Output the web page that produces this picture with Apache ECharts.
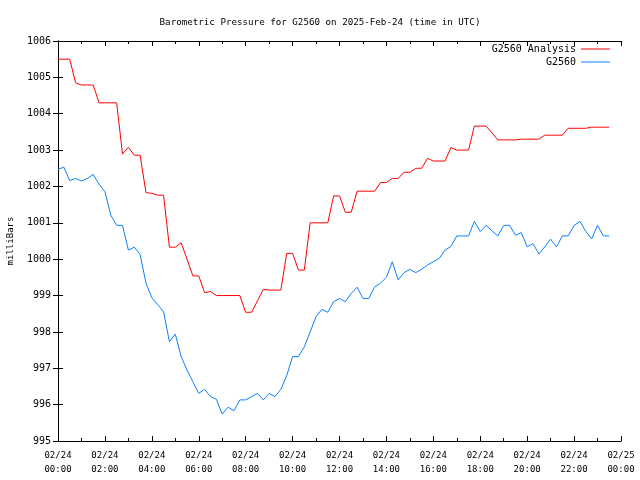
<!DOCTYPE html>
<html>
<head>
<meta charset="utf-8">
<script src="https://cdn.jsdelivr.net/npm/echarts@6/dist/echarts.min.js"></script>
<style>html,body{margin:0;padding:0;background:#fff}#c{width:640px;height:480px}</style>
</head>
<body>
<div id="c"></div>
<script>
const titleText = 'Barometric Pressure for G2560 on 2025-Feb-24 (time in UTC)';
const yAxisName = 'milliBars';
const seriesNames = ['G2560 Analysis', 'G2560'];
const xTickLabels = ['02/24\n00:00','02/24\n02:00','02/24\n04:00','02/24\n06:00','02/24\n08:00','02/24\n10:00','02/24\n12:00','02/24\n14:00','02/24\n16:00','02/24\n18:00','02/24\n20:00','02/24\n22:00','02/25\n00:00'];
const times = [
'00:00','00:15','00:30','00:45','01:00','01:15','01:30','01:45',
'02:00','02:15','02:30','02:45','03:00','03:15','03:30','03:45',
'04:00','04:15','04:30','04:45','05:00','05:15','05:30','05:45',
'06:00','06:15','06:30','06:45','07:00','07:15','07:30','07:45',
'08:00','08:15','08:30','08:45','09:00','09:15','09:30','09:45',
'10:00','10:15','10:30','10:45','11:00','11:15','11:30','11:45',
'12:00','12:15','12:30','12:45','13:00','13:15','13:30','13:45',
'14:00','14:15','14:30','14:45','15:00','15:15','15:30','15:45',
'16:00','16:15','16:30','16:45','17:00','17:15','17:30','17:45',
'18:00','18:15','18:30','18:45','19:00','19:15','19:30','19:45',
'20:00','20:15','20:30','20:45','21:00','21:15','21:30','21:45',
'22:00','22:15','22:30','22:45','23:00','23:15','23:30'];
const analysis = [
1005.50,1005.50,1005.50,1004.85,1004.79,1004.79,1004.79,1004.30,
1004.30,1004.30,1004.30,1002.89,1003.08,1002.86,1002.86,1001.83,
1001.81,1001.76,1001.76,1000.33,1000.33,1000.45,1000.00,999.54,
999.54,999.08,999.11,999.00,999.00,999.00,999.00,999.00,
998.54,998.54,998.85,999.17,999.15,999.15,999.15,1000.16,
1000.16,999.70,999.70,1001.00,1001.00,1001.00,1001.00,1001.74,
1001.74,1001.29,1001.29,1001.87,1001.87,1001.87,1001.87,1002.11,
1002.11,1002.22,1002.22,1002.39,1002.39,1002.50,1002.50,1002.77,
1002.70,1002.70,1002.70,1003.07,1003.00,1003.00,1003.00,1003.66,
1003.66,1003.66,1003.47,1003.28,1003.28,1003.28,1003.28,1003.30,
1003.30,1003.30,1003.30,1003.41,1003.41,1003.41,1003.41,1003.60,
1003.60,1003.60,1003.60,1003.63,1003.63,1003.63,1003.63];
const observed = [
1002.47,1002.53,1002.16,1002.22,1002.15,1002.22,1002.33,1002.06,
1001.86,1001.21,1000.93,1000.93,1000.25,1000.33,1000.13,999.34,
998.94,998.75,998.55,997.73,997.94,997.32,996.95,996.63,
996.31,996.42,996.22,996.15,995.74,995.93,995.83,996.13,
996.13,996.22,996.31,996.13,996.31,996.22,996.42,996.80,
997.32,997.32,997.59,998.00,998.42,998.62,998.54,998.83,
998.92,998.83,999.06,999.23,998.92,998.92,999.24,999.34,
999.50,999.93,999.43,999.63,999.72,999.63,999.72,999.84,
999.93,1000.02,1000.25,1000.35,1000.64,1000.64,1000.64,1001.04,
1000.76,1000.93,1000.78,1000.64,1000.93,1000.93,1000.66,1000.73,
1000.34,1000.43,1000.14,1000.34,1000.55,1000.34,1000.64,1000.64,
1000.93,1001.04,1000.76,1000.56,1000.93,1000.64,1000.64];

function toHours(t){ const p=t.split(':'); return (+p[0]) + (+p[1])/60; }
const redData = times.map((t,i)=>[toHours(t), analysis[i]]);
const blueData = times.map((t,i)=>[toHours(t), observed[i]]);

const FONT = 'DejaVu Sans Mono';
const FS = 9;
const txt = {fontFamily: FONT, fontSize: 10, color: '#000'};
const chart = echarts.init(document.getElementById('c'), null, {renderer:'canvas'});
const axLine = {show:true, lineStyle:{color:'#000', width:1}};
chart.setOption({
  animation:false,
  backgroundColor:'#fff',
  textStyle: txt,
  title:{text:titleText, left:'center', top:13, textStyle:{fontFamily:FONT, fontSize:9.2, fontWeight:'normal', color:'#000'}},
  legend:[
    {data:[seriesNames[0]], right:30, top:44, orient:'vertical', align:'right', icon:'rect', itemWidth:29, itemHeight:1, textStyle:txt, padding:0},
    {data:[seriesNames[1]], right:30, top:57, orient:'vertical', align:'right', icon:'rect', itemWidth:29, itemHeight:1, textStyle:txt, padding:0}
  ],
  grid:{left:58, right:19, top:41, bottom:39, show:false, containLabel:false, outerBoundsMode:'none'},
  xAxis:[
    {type:'value', min:0, max:24, interval:2, axisLine:axLine,
     axisTick:{show:true, inside:true, length:5, lineStyle:{color:'#000'}},
     minorTick:{show:true, splitNumber:2, length:3, lineStyle:{color:'#000'}},
     splitLine:{show:false},
     axisLabel:{margin:8, lineHeight:14, fontFamily:FONT, fontSize:FS, color:'#000', formatter:(v)=>xTickLabels[Math.round(v/2)]}},
    {type:'value', position:'top', min:0, max:24, interval:2, axisLine:axLine,
     axisTick:{show:true, inside:true, length:5, lineStyle:{color:'#000'}},
     minorTick:{show:true, splitNumber:2, length:3, lineStyle:{color:'#000'}},
     splitLine:{show:false}, axisLabel:{show:false}}
  ],
  yAxis:[
    {type:'value', min:995, max:1006, interval:1, axisLine:axLine,
     axisTick:{show:true, inside:true, length:5, lineStyle:{color:'#000'}},
     splitLine:{show:false},
     axisLabel:{margin:7, fontFamily:FONT, fontSize:10, color:'#000', formatter:(v)=>String(v)},
     name:yAxisName, nameLocation:'middle', nameGap:43, nameRotate:90,
     nameTextStyle:{fontFamily:FONT, fontSize:FS, color:'#000'}},
    {type:'value', position:'right', min:995, max:1006, interval:1, axisLine:axLine,
     axisTick:{show:true, inside:true, length:5, lineStyle:{color:'#000'}},
     splitLine:{show:false}, axisLabel:{show:false}}
  ],
  series:[
    {name:seriesNames[0], type:'line', data:redData, showSymbol:false, symbol:'none', color:'#ff0000', lineStyle:{width:1, color:'#ff0000'}, xAxisIndex:0, yAxisIndex:0},
    {name:seriesNames[1], type:'line', data:blueData, showSymbol:false, symbol:'none', color:'#0a80ff', lineStyle:{width:1, color:'#0a80ff'}, xAxisIndex:0, yAxisIndex:0}
  ]
});
</script>
</body>
</html>
